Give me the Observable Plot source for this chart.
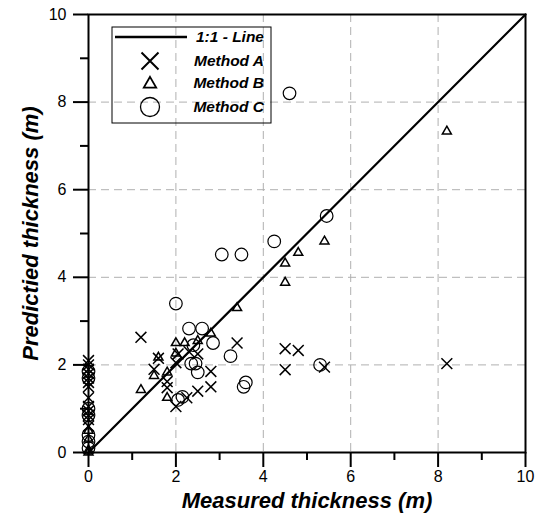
<!DOCTYPE html>
<html><head><meta charset="utf-8">
<script src="https://cdn.jsdelivr.net/npm/d3@7"></script>
<script src="https://cdn.jsdelivr.net/npm/@observablehq/plot@0.6"></script>
<style>body{margin:0;background:#fff}</style>
</head><body><div id="chart"></div>
<script>
// ---- data ----
const majorTicks = [0, 2, 4, 6, 8, 10];
const minorTicks = [1, 3, 5, 7, 9];
const gridTicks = [2, 4, 6, 8];
const lineValues = [0, 10];
const xTitle = "Measured thickness (m)";
const yTitle = "Predictied thickness (m)";
const legendLabels = ["1:1 - Line", "Method A", "Method B", "Method C"];

const methodA_x = [0,0,0,0,0,0,0,0,0,0,0,0,0, 1.2,1.6,1.5,1.8,1.8,2.0,2.25,2.0,2.05,2.3,2.5,2.5,2.8,2.8,3.4,4.5,4.8,4.5,5.4,8.2];
const methodA_y = [2.1,2.0,1.9,1.8,1.7,1.6,1.5,1.25,1.05,0.95,0.85,0.75,0.6, 2.63,2.15,1.9,1.62,1.48,1.05,1.25,2.05,2.25,2.3,2.25,1.4,1.85,1.5,2.5,2.37,2.33,1.89,1.95,2.03];

const methodB_x = [0,0,0,0, 1.2,1.5,1.6,1.8,1.8,2.0,2.0,2.2,2.5,2.8,3.4,4.5,4.5,4.8,5.4,8.2];
const methodB_y = [0,0.05,0.3,0.5, 1.43,1.75,2.17,1.83,1.25,2.5,2.26,2.5,2.55,2.72,3.3,3.88,4.32,4.56,4.82,7.33];

const methodC_x = [0,0,0,0,0,0,0, 2.0,2.3,2.6,2.85,2.4,2.35,2.45,2.5,2.05,2.15,3.05,3.5,4.25,5.45,4.6,3.25,3.6,3.55,5.3];
const methodC_y = [1.85,1.7,1.0,0.85,0.4,0.25,0.1, 3.4,2.83,2.83,2.5,2.45,2.03,2.03,1.83,1.2,1.27,4.52,4.52,4.82,5.4,8.2,2.2,1.6,1.5,2.0];

const A = methodA_x.map((x, i) => ({x, y: methodA_y[i]}));
const B = methodB_x.map((x, i) => ({x, y: methodB_y[i]}));
const C = methodC_x.map((x, i) => ({x, y: methodC_y[i]}));

const FONT = "'Liberation Sans', Arial, sans-serif";

const plot = Plot.plot({
  width: 542, height: 519,
  marginLeft: 88, marginRight: 17, marginTop: 14, marginBottom: 67,
  x: {domain: [0, 10]},
  y: {domain: [0, 10]},
  style: {fontFamily: FONT, fontSize: "16px", color: "black", background: "white"},
  marks: [
    Plot.gridX(gridTicks, {stroke: "#b0b0b0", strokeOpacity: 1, strokeDasharray: "8,5", strokeWidth: 1}),
    Plot.gridY(gridTicks, {stroke: "#b0b0b0", strokeOpacity: 1, strokeDasharray: "8,5", strokeWidth: 1}),
    Plot.line(lineValues, {x: d => d, y: d => d, stroke: "black", strokeWidth: 2.2}),
    Plot.dot(A, {x: "x", y: "y", symbol: "times", r: 5, stroke: "black", strokeWidth: 1.5}),
    Plot.dot(B, {x: "x", y: "y", symbol: "triangle2", r: 4.3, stroke: "black", strokeWidth: 1.5, fill: "none"}),
    Plot.dot(C, {x: "x", y: "y", symbol: "circle", r: 6.3, stroke: "black", strokeWidth: 1.2, fill: "none"}),
    Plot.frame({stroke: "black", strokeWidth: 2}),
    Plot.axisX({ticks: majorTicks, tickSize: 15, tickPadding: 3, strokeWidth: 2, label: null, fontSize: 16}),
    Plot.axisX({ticks: minorTicks, tickSize: 8, tickFormat: () => "", strokeWidth: 2, label: null}),
    Plot.axisY({ticks: majorTicks, tickSize: 15, tickPadding: 7, strokeWidth: 2, label: null, fontSize: 16}),
    Plot.axisY({ticks: minorTicks, tickSize: 8, tickFormat: () => "", strokeWidth: 2, label: null}),
    Plot.text([xTitle], {text: d => d, frameAnchor: "bottom", dy: 55, textAnchor: "middle", fontSize: 22, fontWeight: "bold", fontStyle: "italic"}),
    Plot.text([yTitle], {text: d => d, frameAnchor: "left", dx: -58, rotate: -90, textAnchor: "middle", fontSize: 22, fontWeight: "bold", fontStyle: "italic"})
  ]
});
document.getElementById("chart").appendChild(plot);

// ---- legend ----
const svg = d3.select(plot);
const lg = svg.append("g").attr("font-family", FONT);
lg.append("rect").attr("x", 112).attr("y", 27).attr("width", 159).attr("height", 96)
  .attr("fill", "none").attr("stroke", "black").attr("stroke-width", 1);
lg.append("line").attr("x1", 115).attr("x2", 187).attr("y1", 37).attr("y2", 37)
  .attr("stroke", "black").attr("stroke-width", 2.5);
const rows = [37, 61, 83, 107];
lg.append("path").attr("transform", `translate(150,${rows[1]})`)
  .attr("d", "M-8.5,-8.5L8.5,8.5M-8.5,8.5L8.5,-8.5").attr("stroke", "black").attr("stroke-width", 2).attr("fill", "none");
lg.append("path").attr("transform", `translate(150,${rows[2]+1})`)
  .attr("d", d3.symbol(d3.symbolTriangle2, 110)()).attr("stroke", "black").attr("stroke-width", 1.8).attr("fill", "none");
lg.append("circle").attr("cx", 150).attr("cy", rows[3]).attr("r", 9.5)
  .attr("stroke", "black").attr("stroke-width", 1.3).attr("fill", "none");
legendLabels.forEach((t, i) => {
  lg.append("text").attr("x", 264).attr("y", rows[i]).attr("dy", "0.35em")
    .attr("text-anchor", "end").attr("font-size", 15.5).attr("font-weight", "bold")
    .attr("font-style", "italic").text(t);
});
</script>
</body></html>
